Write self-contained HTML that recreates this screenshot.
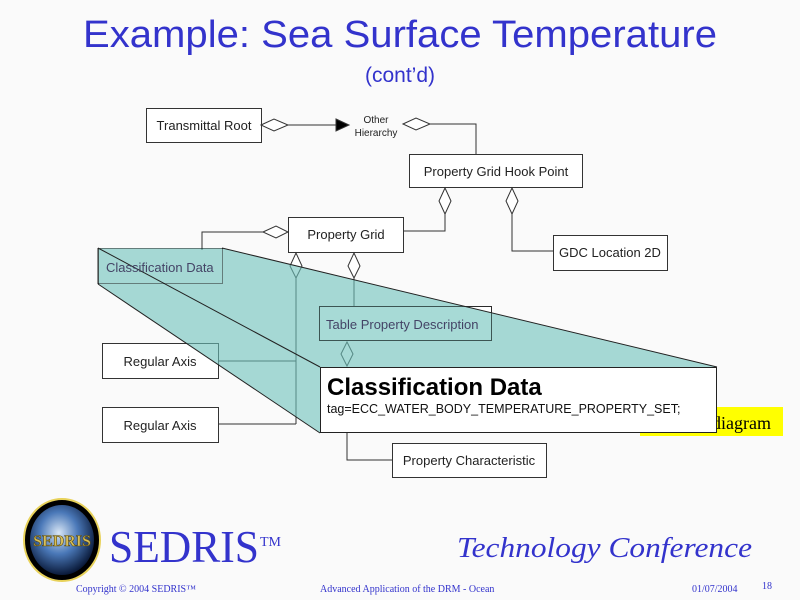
<!DOCTYPE html>
<html><head><meta charset="utf-8"><style>
html,body{margin:0;padding:0;background:#fafafa;}
svg{display:block;}
</style></head><body>
<svg width="800" height="600" xmlns="http://www.w3.org/2000/svg" font-family="Liberation Sans, sans-serif">
<defs>
<radialGradient id="earth" cx="45%" cy="40%" r="60%">
<stop offset="0" stop-color="#d8e6f5"/><stop offset="0.5" stop-color="#4a78b8"/><stop offset="1" stop-color="#0a1a3a"/>
</radialGradient>
</defs>
<rect width="800" height="600" fill="#fafafa"/>
<text x="400" y="47" font-size="38" fill="#3333cc" text-anchor="middle" textLength="634" lengthAdjust="spacingAndGlyphs">Example: Sea Surface Temperature</text>
<text x="400" y="82" font-size="21" fill="#3333cc" text-anchor="middle">(cont’d)</text>

<g stroke="#333" stroke-width="1" fill="none">
<rect x="146.5" y="108.5" width="115" height="34" fill="#fff"/>
<polygon points="261,125 274,119 288,125 274,131" fill="#fff"/>
<line x1="288" y1="125" x2="336" y2="125"/>
<polygon points="336,119 349,125 336,131" fill="#000"/>
<polygon points="403,124 416,118 430,124 416,130" fill="#fff"/>
<polyline points="430,124 476,124 476,154"/>
<rect x="409.5" y="154.5" width="173" height="33" fill="#fff"/>
<polygon points="445,188 451,201 445,214 439,201" fill="#fff"/>
<polyline points="445,214 445,231 403,231"/>
<polygon points="512,188 518,201 512,214 506,201" fill="#fff"/>
<polyline points="512,214 512,251 553,251"/>
<rect x="553.5" y="235.5" width="114" height="35" fill="#fff"/>
<rect x="288.5" y="217.5" width="115" height="35" fill="#fff"/>
<polygon points="263,232 276,226 288,232 276,238" fill="#fff"/>
<polyline points="263,232 202,232 202,250"/>
<polygon points="354,253 360,266 354,278 348,266" fill="#fff"/>
<line x1="354" y1="278" x2="354" y2="306"/>
<polygon points="296,253 302,266 296,278 290,266" fill="#fff"/>
<line x1="296" y1="278" x2="296" y2="424"/>
<rect x="102.5" y="343.5" width="116" height="35" fill="#fff"/>
<line x1="218" y1="361" x2="296" y2="361"/>
<rect x="102.5" y="407.5" width="116" height="35" fill="#fff"/>
<line x1="218" y1="424" x2="296" y2="424"/>
<rect x="319.5" y="306.5" width="172" height="34" fill="#fff"/>
<polygon points="347,342 353,354 347,366 341,354" fill="#fff"/>
<polyline points="347,433 347,460 392,460"/>
<rect x="392.5" y="443.5" width="154" height="34" fill="#fff"/>
</g>
<g font-size="13" fill="#222">
<text x="204" y="130" text-anchor="middle">Transmittal Root</text>
<text x="376" y="123" font-size="10" text-anchor="middle">Other</text>
<text x="376" y="136" font-size="10" text-anchor="middle">Hierarchy</text>
<text x="496" y="176" text-anchor="middle">Property Grid Hook Point</text>
<text x="610" y="257" text-anchor="middle">GDC Location 2D</text>
<text x="346" y="239" text-anchor="middle">Property Grid</text>
<text x="160" y="366" text-anchor="middle">Regular Axis</text>
<text x="160" y="430" text-anchor="middle">Regular Axis</text>
<text x="469" y="465" text-anchor="middle">Property Characteristic</text>
</g>
<rect x="640" y="407" width="143" height="29" fill="#ffff00"/>
<text x="712" y="429" font-family="Liberation Serif, serif" font-size="18" fill="#000">diagram</text>
<polygon points="98,248 222,248 717,367 320,433 98,284" fill="#6cc2bb" fill-opacity="0.6"/>
<g stroke="#222" stroke-width="1" fill="none">
<line x1="222" y1="248" x2="717" y2="367"/>
<line x1="98" y1="248" x2="320" y2="367"/>
<line x1="98" y1="284" x2="320" y2="433"/>
<line x1="98" y1="248" x2="98" y2="284"/>
<rect x="98.5" y="248.5" width="124" height="35" stroke-dasharray="1,1"/>
<rect x="319.5" y="306.5" width="172" height="34" stroke-dasharray="1,1"/>
</g>
<text x="106" y="272" font-size="13" fill="#446">Classification Data</text>
<text x="326" y="329" font-size="13" fill="#446">Table Property Description</text>
<rect x="320.5" y="367.5" width="396" height="65" fill="#fff" stroke="#222"/>
<text x="327" y="395" font-size="24" font-weight="bold" fill="#000">Classification Data</text>
<text x="327" y="413" font-size="12.5" fill="#111">tag=ECC_WATER_BODY_TEMPERATURE_PROPERTY_SET;</text>

<ellipse cx="62" cy="540" rx="38" ry="41" fill="#000" stroke="#e8d25a" stroke-width="2"/>
<ellipse cx="62" cy="540" rx="32" ry="35" fill="url(#earth)"/>
<text x="62" y="546" font-family="Liberation Serif, serif" font-weight="bold" font-size="16" fill="#d9c05a" stroke="#5a4a10" stroke-width="0.6" text-anchor="middle">SEDRIS</text>
<text x="109" y="562" font-family="Liberation Serif, serif" font-size="46" fill="#3333cc" textLength="150" lengthAdjust="spacingAndGlyphs">SEDRIS</text>
<text x="260" y="546" font-family="Liberation Serif, serif" font-size="14" fill="#3333cc">TM</text>
<text x="457" y="557" font-family="Liberation Serif, serif" font-style="italic" font-size="29" fill="#3333cc" textLength="295" lengthAdjust="spacingAndGlyphs">Technology Conference</text>
<g font-family="Liberation Serif, serif" font-size="10" fill="#3333cc">
<text x="76" y="592">Copyright © 2004 SEDRIS™</text>
<text x="320" y="592">Advanced Application of the DRM - Ocean</text>
<text x="692" y="592">01/07/2004</text>
<text x="762" y="589">18</text>
</g>
</svg>
</body></html>
